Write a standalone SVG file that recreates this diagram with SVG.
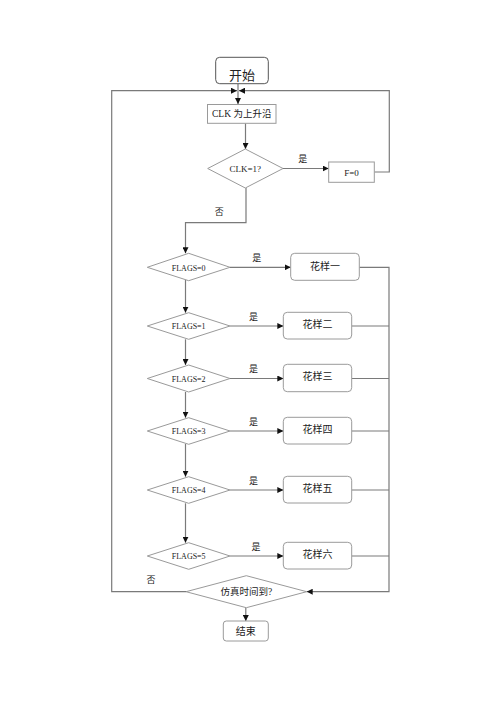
<svg xmlns="http://www.w3.org/2000/svg" width="500" height="708" viewBox="0 0 500 708">
<style>
.box{fill:#fff;stroke:#9a9a9a;stroke-width:1}
.ln{fill:none;stroke:#7a7a7a;stroke-width:1.2}
.t{font-family:"Liberation Serif","Noto Sans CJK SC",serif;fill:#222;text-anchor:middle;dominant-baseline:central}
</style>
<defs>
<marker id="ah" viewBox="0 0 6 6" refX="6" refY="3" markerWidth="6" markerHeight="6" markerUnits="userSpaceOnUse" orient="auto">
<path d="M0,0 L6,3 L0,6 Z" fill="#111"/>
</marker>
</defs>
<rect width="500" height="708" fill="#fff"/>
<g id="connectors">
<path class="ln" d="M238,84 V104" marker-end="url(#ah)"/>
<path class="ln" d="M186,591.7 H111.7 V90.7 H237" marker-end="url(#ah)"/>
<path class="ln" d="M374.3,172 H389.3 V90.7 H239" marker-end="url(#ah)"/>
<path class="ln" d="M245.5,123.3 V149" marker-end="url(#ah)"/>
<path class="ln" d="M283,168.5 H328.7" marker-end="url(#ah)"/>
<path class="ln" d="M246,188 V222.7 H185.5 V253.3" marker-end="url(#ah)"/>
<path class="ln" d="M230,267.3 H290.7" marker-end="url(#ah)"/>
<path class="ln" d="M185.5,280 V312.7" marker-end="url(#ah)"/>
<path class="ln" d="M230,326 H283.3" marker-end="url(#ah)"/>
<path class="ln" d="M185.5,339.3 V365" marker-end="url(#ah)"/>
<path class="ln" d="M230,378.5 H283.3" marker-end="url(#ah)"/>
<path class="ln" d="M185.5,392 V417.7" marker-end="url(#ah)"/>
<path class="ln" d="M230,431 H283.3" marker-end="url(#ah)"/>
<path class="ln" d="M185.5,444 V476.7" marker-end="url(#ah)"/>
<path class="ln" d="M230,490 H283.3" marker-end="url(#ah)"/>
<path class="ln" d="M185.5,503.3 V542.7" marker-end="url(#ah)"/>
<path class="ln" d="M230,556 H283.3" marker-end="url(#ah)"/>
<path class="ln" d="M359.3,267.3 H389 V591.7 H306.7" marker-end="url(#ah)"/>
<path class="ln" d="M351.7,326 H389"/>
<path class="ln" d="M351.7,378.5 H389"/>
<path class="ln" d="M351.7,431 H389"/>
<path class="ln" d="M351.7,490 H389"/>
<path class="ln" d="M351.7,556 H389"/>
<path class="ln" d="M245.8,607.7 V621" marker-end="url(#ah)"/>
<text class="t" x="302.7" y="159" font-size="9">是</text>
<text class="t" x="219.3" y="211.7" font-size="9">否</text>
<text class="t" x="256.7" y="257.7" font-size="9">是</text>
<text class="t" x="253.5" y="316.7" font-size="9">是</text>
<text class="t" x="253.5" y="369" font-size="9">是</text>
<text class="t" x="253.5" y="421.7" font-size="9">是</text>
<text class="t" x="253.5" y="480.7" font-size="9">是</text>
<text class="t" x="256" y="546.7" font-size="9">是</text>
<text class="t" x="151" y="580" font-size="9">否</text>
</g>
<g id="start"><rect class="box" x="215.7" y="57.3" width="52.6" height="26.4" rx="4" style="stroke:#555"/><text class="t" x="242" y="75" font-size="13">开始</text></g>
<g id="clk-edge"><rect class="box" x="207.5" y="104.5" width="68.5" height="18.8"/><text class="t" x="241.7" y="114" font-size="9.5">CLK 为上升沿</text></g>
<g id="clk-check"><polygon class="box" points="245.3,149 283,168.5 245.3,188 207.7,168.5"/><text class="t" x="245.3" y="168.5" font-size="9">CLK=1?</text></g>
<g id="f0"><rect class="box" x="328.7" y="162" width="45.6" height="20.3"/><text class="t" x="351.5" y="172.5" font-size="9">F=0</text></g>
<g id="flags0"><polygon class="box" points="188.7,253.3 230,267.3 188.7,280.7 147.3,267.3"/><text class="t" x="188.7" y="268" font-size="8">FLAGS=0</text></g>
<g id="p1"><rect class="box" x="290.7" y="253.3" width="68.6" height="27" rx="4"/><text class="t" x="325" y="266.5" font-size="10">花样一</text></g>
<g id="flags1"><polygon class="box" points="188.7,312.7 230,326 188.7,339.3 147.3,326"/><text class="t" x="188.7" y="326.5" font-size="8">FLAGS=1</text></g>
<g id="p2"><rect class="box" x="283.3" y="312.3" width="68.4" height="26.7" rx="4"/><text class="t" x="317.5" y="324.5" font-size="10">花样二</text></g>
<g id="flags2"><polygon class="box" points="188.7,365 230,378.5 188.7,392 147.3,378.5"/><text class="t" x="188.7" y="379" font-size="8">FLAGS=2</text></g>
<g id="p3"><rect class="box" x="283.3" y="364.3" width="68.4" height="27.4" rx="4"/><text class="t" x="317.5" y="376.5" font-size="10">花样三</text></g>
<g id="flags3"><polygon class="box" points="188.7,417.7 230,431 188.7,444.3 147.3,431"/><text class="t" x="188.7" y="431.5" font-size="8">FLAGS=3</text></g>
<g id="p4"><rect class="box" x="283.3" y="417.3" width="68.4" height="26.7" rx="4"/><text class="t" x="317.5" y="429.5" font-size="10">花样四</text></g>
<g id="flags4"><polygon class="box" points="188.7,476.7 230,490 188.7,503.3 147.3,490"/><text class="t" x="188.7" y="490.5" font-size="8">FLAGS=4</text></g>
<g id="p5"><rect class="box" x="283.3" y="476.3" width="68.4" height="26.7" rx="4"/><text class="t" x="317.5" y="488.5" font-size="10">花样五</text></g>
<g id="flags5"><polygon class="box" points="188.7,542.7 230,556 188.7,569.3 147.3,556"/><text class="t" x="188.7" y="556.5" font-size="8">FLAGS=5</text></g>
<g id="p6"><rect class="box" x="283.3" y="542.3" width="68.4" height="26.7" rx="4"/><text class="t" x="317.5" y="554.5" font-size="10">花样六</text></g>
<g id="timeup"><polygon class="box" points="246.3,575.7 306.7,591.7 246.3,607.7 186,591.7"/><text class="t" x="246.3" y="592" font-size="9.5">仿真时间到?</text></g>
<g id="end"><rect class="box" x="223.3" y="621" width="45" height="20" rx="3"/><text class="t" x="245.8" y="631" font-size="10">结束</text></g>
</svg>
